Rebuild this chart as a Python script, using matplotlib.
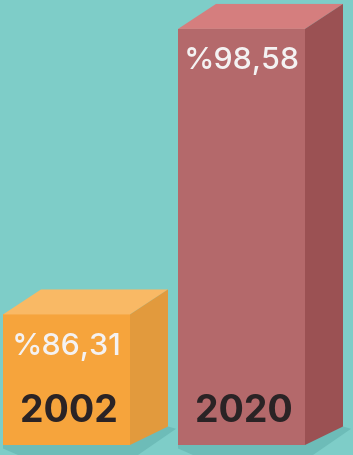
import matplotlib
matplotlib.use('Agg')
import matplotlib.pyplot as plt
from matplotlib.patches import Polygon

# data
years = ['2002', '2020']
values = [86.31, 98.58]
labels = ['%86,31', '%98,58']

# colours per box: front, top, side
fronts = ['#F6A43C', '#B4696B']
tops = ['#F9B965', '#D57E7E']
sides = ['#E29A3D', '#9B5153']
bg = '#7ECDC8'
shadow = '#6DBCB8'

BASE = 80.7          # value at the floor of the boxes
K = 23.27            # pixels per value unit
DX = 38              # depth offset, x
DY_TOP = 25 / K      # depth offset at the top
DY_BOT = 18.5 / K    # depth offset at the floor
x_left = [3, 178]
width = 127

fig = plt.figure(figsize=(3.53, 4.55), dpi=100)
fig.patch.set_facecolor(bg)
ax = fig.add_axes([0, 0, 1, 1])
ax.set_facecolor(bg)
ax.set_xlim(0, 353)
ax.set_ylim(BASE - 10 / K, BASE + 445 / K)
ax.axis('off')

y_floor = BASE - 10 / K
for i in range(len(values)):
    x0 = x_left[i]
    x1 = x0 + width
    v = values[i]
    # shadow on the floor
    ax.add_patch(Polygon([(x0, BASE), (x1 + DX, BASE + DY_BOT),
                          (x1 + DX + 8, BASE + DY_BOT - 0.1),
                          (x1 + 8, y_floor), (x0 + 15, y_floor), (x0, BASE - 0.15)],
                         closed=True, fc=shadow, ec='none', zorder=1))
    # front face
    ax.bar(x0 + width / 2, v - BASE, bottom=BASE, width=width,
           color=fronts[i], zorder=3)
    # top face
    ax.add_patch(Polygon([(x0, v), (x0 + DX, v + DY_TOP), (x1 + DX, v + DY_TOP), (x1, v)],
                         closed=True, fc=tops[i], ec='none', zorder=3))
    # side face
    ax.add_patch(Polygon([(x1, v), (x1 + DX, v + DY_TOP), (x1 + DX, BASE + DY_BOT), (x1, BASE)],
                         closed=True, fc=sides[i], ec='none', zorder=3))

    ax.text(x0 + width / 2, v - 1.38, labels[i], color='#F4F2F2', fontsize=22,
            family='Inter', fontweight='medium', ha='center', va='center', zorder=4)
    ax.text(x0 + width / 2 + 2, BASE + 1.42, years[i], color='#2A2325', fontsize=27,
            family='Inter', fontweight='bold', ha='center', va='center', zorder=4)

fig.savefig('out.png', dpi=100, facecolor=bg)
